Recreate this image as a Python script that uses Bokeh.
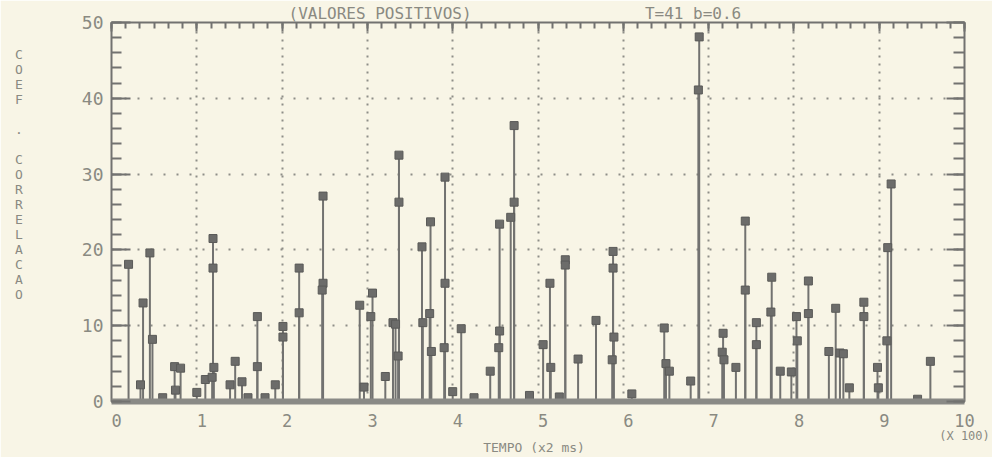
from bokeh.plotting import figure
from bokeh.models import (Range1d, LinearAxis, SingleIntervalTicker, FixedTicker,
                          Title, CustomJSTickFormatter)
from bokeh.embed import file_html
from bokeh.resources import INLINE

# ---- data (tempo in samples, x2 ms; axis shows hundreds) ----
tempo = [20, 34, 37, 45, 48, 60, 74, 75, 81, 100,
         110, 119, 119, 120, 118, 139, 145, 153, 160, 171,
         171, 180, 192, 201, 201, 220, 220, 248, 248, 247,
         291, 296, 306, 304, 321, 330, 333, 337, 337, 336,
         364, 365, 374, 373, 375, 391, 391, 390, 400, 410,
         425, 444, 455, 455, 454, 468, 472, 472, 490, 506,
         514, 515, 525, 532, 532, 547, 568, 588, 588, 589,
         587, 610, 648, 650, 654, 679, 689, 688, 717, 716,
         718, 732, 743, 743, 756, 756, 774, 773, 784, 797,
         803, 804, 817, 817, 841, 849, 854, 858, 865, 882,
         882, 898, 899, 909, 910, 914, 945, 960]
coef = [18.1, 2.2, 13.0, 19.6, 8.2, 0.5, 4.6, 1.5, 4.4, 1.2,
        2.9, 21.5, 17.6, 4.5, 3.2, 2.2, 5.3, 2.6, 0.5, 11.2,
        4.6, 0.5, 2.2, 9.9, 8.5, 17.6, 11.7, 27.1, 15.6, 14.7,
        12.7, 1.9, 14.3, 11.2, 3.3, 10.4, 10.2, 32.5, 26.3, 6.0,
        20.4, 10.4, 23.7, 11.6, 6.6, 29.6, 15.6, 7.1, 1.3, 9.6,
        0.5, 4.0, 23.4, 9.3, 7.1, 24.3, 36.4, 26.3, 0.8, 7.5,
        15.6, 4.5, 0.6, 18.7, 18.0, 5.6, 10.7, 19.8, 17.6, 8.5,
        5.5, 1.0, 9.7, 5.0, 4.0, 2.7, 48.1, 41.1, 9.0, 6.5,
        5.5, 4.5, 23.8, 14.7, 10.4, 7.5, 16.4, 11.8, 4.0, 3.9,
        11.2, 8.0, 15.9, 11.6, 6.6, 12.3, 6.4, 6.3, 1.8, 13.1,
        11.2, 4.5, 1.8, 8.0, 20.3, 28.7, 0.3, 5.3]

x_ticks = list(range(0, 1001, 100))
x_tick_labels = ["\u00a0" + str(i) for i in range(10)] + ["10"]
y_grid = [10, 20, 30, 40]
x_grid = list(range(100, 1000, 100))

title_left = "(VALORES POSITIVOS)"
title_right = "T=41  b=0.6"
y_title = "COEF . CORRELACAO"
x_title = "TEMPO  (x2 ms)"
x_scale_note = "(X 100)"

BG = "#f8f5e6"
INK = "#727270"
TXT = "#8a8a82"
MONO = "DejaVu Sans Mono"

p = figure(width=992, height=457, x_range=Range1d(0, 1000), y_range=Range1d(0, 50),
           output_backend="svg", toolbar_location=None,
           min_border_left=111, min_border_right=28, min_border_top=22,
           min_border_bottom=56, background_fill_color=BG, border_fill_color=BG)
p.outline_line_color = INK
p.outline_line_width = 2

# grids (dotted)
p.xgrid.ticker = FixedTicker(ticks=x_grid)
p.ygrid.ticker = FixedTicker(ticks=y_grid)
p.xgrid.grid_line_color = "#8e8e88"
p.ygrid.grid_line_color = "#8e8e88"
p.xgrid.grid_line_width = 2
p.ygrid.grid_line_width = 2
p.xgrid.grid_line_dash = "2 6"
p.ygrid.grid_line_dash = "2 11"

# bottom axis
xa = p.xaxis[0]
xa.ticker = FixedTicker(ticks=x_ticks)
xa.major_label_overrides = {t: l for t, l in zip(x_ticks, x_tick_labels)}
xa.major_tick_in = 0
xa.major_tick_out = 0
xa.minor_tick_in = 0
xa.minor_tick_out = 0
xa.axis_line_color = "#8a8a86"
xa.axis_line_width = 6
xa.major_label_standoff = 9
xa.major_label_text_font = MONO
xa.major_label_text_font_size = "17px"
xa.major_label_text_color = TXT

# second bottom axis: scale note + axis title
xb = LinearAxis(ticker=FixedTicker(ticks=[1000]),
                major_label_overrides={1000: x_scale_note},
                major_tick_in=0, major_tick_out=0, minor_tick_in=0, minor_tick_out=0,
                axis_line_color=None, major_label_standoff=-5,
                major_label_text_font=MONO, major_label_text_font_size="12px",
                major_label_text_color=TXT,
                axis_label=x_title, axis_label_standoff=-6,
                axis_label_text_font=MONO, axis_label_text_font_size="13px",
                axis_label_text_font_style="normal", axis_label_text_color=TXT)
p.add_layout(xb, "below")

# left axis
ya = p.yaxis[0]
ya.ticker = SingleIntervalTicker(interval=10, num_minor_ticks=5)
ya.major_tick_in = 19
ya.major_tick_out = 0
ya.minor_tick_in = 10
ya.minor_tick_out = 0
ya.major_tick_line_color = INK
ya.minor_tick_line_color = INK
ya.major_tick_line_width = 2
ya.minor_tick_line_width = 2
ya.axis_line_color = None
ya.major_label_standoff = 8
ya.major_label_text_font = MONO
ya.major_label_text_font_size = "18px"
ya.major_label_text_color = TXT
ya.axis_label = "\n".join(list(y_title) + ["\u00a0"] * 5)
ya.axis_label_orientation = "horizontal"
ya.axis_label_standoff = 56
ya.axis_label_text_font = MONO
ya.axis_label_text_font_size = "13px"
ya.axis_label_text_font_style = "normal"
ya.axis_label_text_color = TXT
ya.axis_label_text_line_height = 1.0

blank = CustomJSTickFormatter(code="return ''")

ra = LinearAxis(ticker=SingleIntervalTicker(interval=10, num_minor_ticks=5),
                formatter=blank, major_tick_in=18, major_tick_out=0,
                minor_tick_in=11, minor_tick_out=0, axis_line_color=None,
                major_tick_line_color=INK, minor_tick_line_color=INK,
                major_tick_line_width=2, minor_tick_line_width=2,
                major_label_standoff=0, major_label_text_font_size="1px")
p.add_layout(ra, "right")

ta = LinearAxis(ticker=SingleIntervalTicker(interval=100, num_minor_ticks=6),
                formatter=blank, major_tick_in=9, major_tick_out=0,
                minor_tick_in=6, minor_tick_out=0, axis_line_color=None,
                major_tick_line_color=INK, minor_tick_line_color=INK,
                major_tick_line_width=2, minor_tick_line_width=2,
                major_label_standoff=0, major_label_text_font_size="1px")
p.add_layout(ta, "above")

p.add_layout(Title(text=title_left + "\u00a0" * 18 + title_right, align="left",
                   offset=177, standoff=0, text_font=MONO, text_font_size="16px",
                   text_font_style="normal", text_color=TXT), "above")

# stems with square markers
p.segment(x0=tempo, y0=[0] * len(tempo), x1=tempo, y1=coef,
          line_color=INK, line_width=2)
p.scatter(x=tempo, y=coef, marker="square", size=8,
          fill_color="#6c6c6a", line_color="#5a5a58", line_width=1)

open("out.html", "w").write(file_html(p, INLINE))
